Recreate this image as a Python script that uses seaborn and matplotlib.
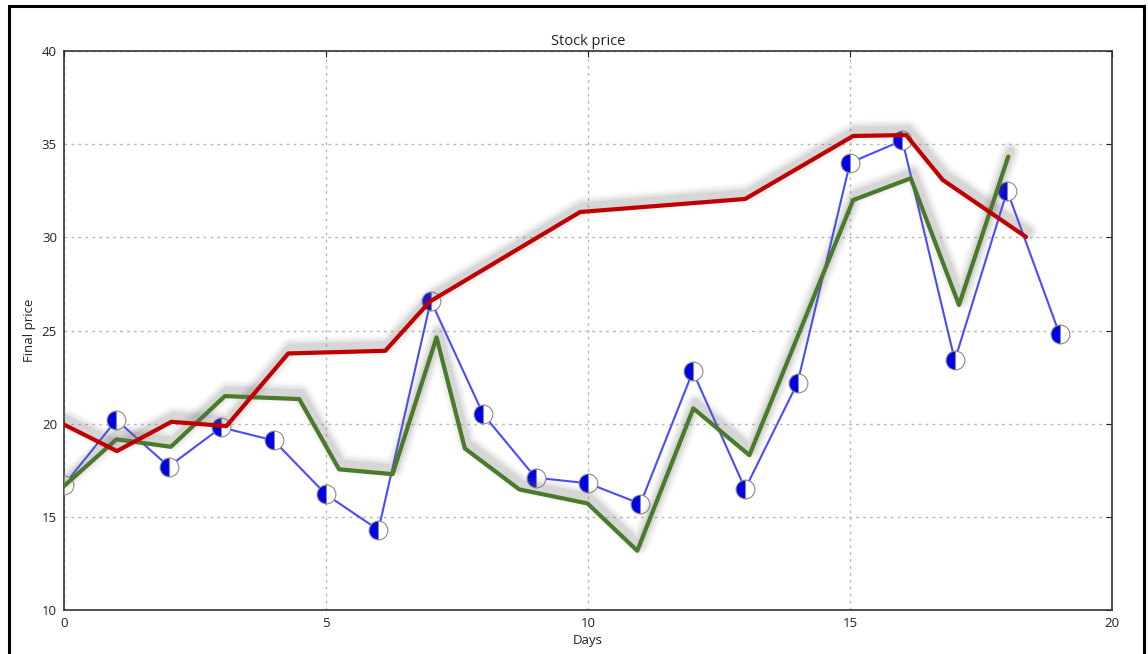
import numpy as np
import pandas as pd
import matplotlib
matplotlib.use("Agg")
import matplotlib.pyplot as plt
import matplotlib.patheffects as pe
from matplotlib.patches import Rectangle
import seaborn as sns

# ---- data ----
blue_days = list(range(20))
blue_price = [16.7, 20.2, 17.7, 19.8, 19.1, 16.2, 14.3, 26.6, 20.5, 17.1,
              16.8, 15.7, 22.8, 16.5, 22.2, 34.0, 35.2, 23.4, 32.5, 24.8]

red_days = [0, 1.01, 2.05, 3.10, 4.28, 6.13, 6.98, 9.85, 13.0, 15.06, 16.07, 16.77, 18.36]
red_price = [19.95, 18.53, 20.10, 19.87, 23.77, 23.91, 26.55, 31.36, 32.06, 35.44, 35.49, 33.08, 30.02]

green_days = [0, 1.0, 2.04, 3.07, 4.49, 5.25, 6.27, 7.11, 7.65, 8.69, 9.99, 10.94,
              12.01, 13.08, 15.06, 16.16, 17.08, 18.02]
green_price = [16.65, 19.16, 18.76, 21.48, 21.32, 17.55, 17.29, 24.63, 18.67, 16.47,
               15.72, 13.18, 20.82, 18.31, 32.0, 33.17, 26.37, 34.33]

x_ticks = [0, 5, 10, 15, 20]
y_ticks = [10, 15, 20, 25, 30, 35, 40]

sns.set_theme(style="white")
plt.rcParams["font.family"] = ["Open Sans", "DejaVu Sans"]
plt.rcParams["xtick.direction"] = "in"
plt.rcParams["ytick.direction"] = "in"

fig = plt.figure(figsize=(11.48, 6.54), dpi=100)
ax = fig.add_axes([64 / 1148, 1 - 610 / 654, (1112 - 64) / 1148, (610 - 51) / 654])

blue_df = pd.DataFrame({"day": blue_days, "price": blue_price})
red_df = pd.DataFrame({"day": red_days, "price": red_price})
green_df = pd.DataFrame({"day": green_days, "price": green_price})

sns.lineplot(data=blue_df, x="day", y="price", ax=ax, estimator=None, sort=False,
             color="#4a4aff", linewidth=1.5, marker="o", markersize=13.5,
             fillstyle="left", markerfacecolor="#0000e6", markerfacecoloralt="white",
             markeredgecolor="#8a8a8a", markeredgewidth=0.8, zorder=3)


def shadow_effects():
    effs = []
    for lw_extra, a in [(12, 0.04), (9, 0.06), (6, 0.08), (3, 0.12)]:
        effs.append(pe.SimpleLineShadow(offset=(1.5, 4), shadow_color="#707070",
                                        alpha=a, linewidth=3 + lw_extra))
    effs.append(pe.Normal())
    return effs


sns.lineplot(data=green_df, x="day", y="price", ax=ax, estimator=None, sort=False,
             color="#4a7a2a", linewidth=3, zorder=4, path_effects=shadow_effects())
sns.lineplot(data=red_df, x="day", y="price", ax=ax, estimator=None, sort=False,
             color="#c00000", linewidth=3, zorder=5, path_effects=shadow_effects())

ax.set_xlim(0, 20)
ax.set_ylim(10, 40)
ax.set_xticks(x_ticks)
ax.set_yticks(y_ticks)
ax.grid(True, linestyle=(0, (2, 3)), color="#b8b8b8", linewidth=1.0)
ax.tick_params(axis="both", which="both", labelsize=9.5, colors="#222222",
               length=4, width=0.8, top=True, right=True, direction="in", pad=5)
for s in ax.spines.values():
    s.set_color("#333333")
    s.set_linewidth(1.2)

ax.set_title("Stock price", fontsize=10.5, color="#222222", pad=4)
ax.set_xlabel("Days", fontsize=9.5, color="#222222", labelpad=3)
ax.set_ylabel("Final price", fontsize=9.5, color="#222222", labelpad=4)

# outer frame
fig.patches.append(Rectangle((9 / 1148, -0.2), (1144 - 9) / 1148, 1.2 - 6 / 654,
                             transform=fig.transFigure, fill=False,
                             edgecolor="black", linewidth=2.2, zorder=10))

fig.savefig("out.png", dpi=100)
